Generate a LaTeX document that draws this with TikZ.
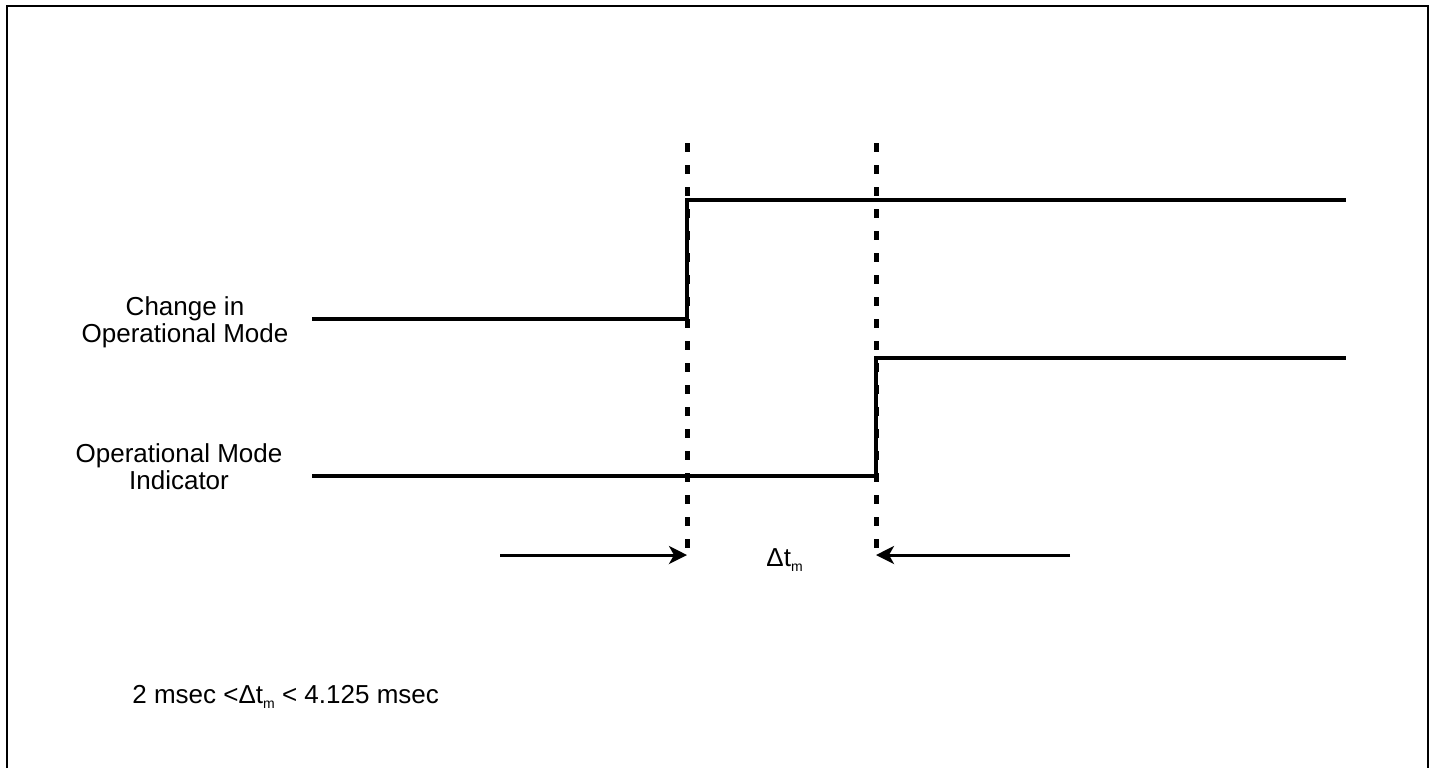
\documentclass[tikz,border=0pt]{standalone}
\usepackage{fontspec}
\setmainfont{Liberation Sans}
\usetikzlibrary{arrows.meta}
\newcommand\dtm{Δt\raisebox{-0.4ex}{\fontsize{7}{7}\selectfont m}}
\begin{document}
\begin{tikzpicture}[x = 0.5pt, y = -0.5pt, font = \fontsize{13}{13.5}\selectfont]
\tikzset{signal/.style = {line width = 2pt, line join = miter}, marker/.style = {line width = 2.5pt, dash pattern = on 4.5pt off 6.5pt}, gaparrow/.style = {line width = 1.5pt, -{Stealth[length = 9pt, width = 9pt, inset = 2.5pt]}}, sigtext/.style = {inner sep = 0pt, align = center}}
\pgfmathsetmacro\ta{687};
\pgfmathsetmacro\tb{876};
\useasboundingbox (0,0) rectangle (1434,768);
\draw[line width = 1pt] (7,768) -- (7,6) -- (1428,6) -- (1428,768);
\foreach \t/\n in {\ta/a,\tb/b} {\coordinate (\n top) at (\t,143); \coordinate (\n bot) at (\t,548); \draw[marker] (\n top) -- (\n bot);}
\coordinate (cm start) at (312,319);
\coordinate (cm rise) at (\ta,319);
\coordinate (cm high) at (\ta,200);
\coordinate (cm end) at (1346,200);
\draw[signal] (cm start) -- (cm rise) -- (cm high) -- (cm end);
\coordinate (mi start) at (312,476);
\coordinate (mi rise) at (\tb,476);
\coordinate (mi high) at (\tb,358);
\coordinate (mi end) at (1346,358);
\draw[signal] (mi start) -- (mi rise) -- (mi high) -- (mi end);
\node[sigtext] (cm label) at (185,322) {Change in\\Operational Mode};
\node[sigtext] (mi label) at (179,467) {Operational Mode\\Indicator};
\coordinate (left tail) at (500,555);
\coordinate (a tip) at (\ta,555);
\coordinate (right tail) at (1070,555);
\coordinate (b tip) at (\tb,555);
\draw[gaparrow] (left tail) -- (a tip);
\draw[gaparrow] (right tail) -- (b tip);
\node[anchor = base west, inner sep = 0pt] (dt) at (766,566) {\dtm};
\node[anchor = base west, inner sep = 0pt] (range) at (132,703) {2 msec <\dtm{} < 4.125 msec};
\end{tikzpicture}
\end{document}
